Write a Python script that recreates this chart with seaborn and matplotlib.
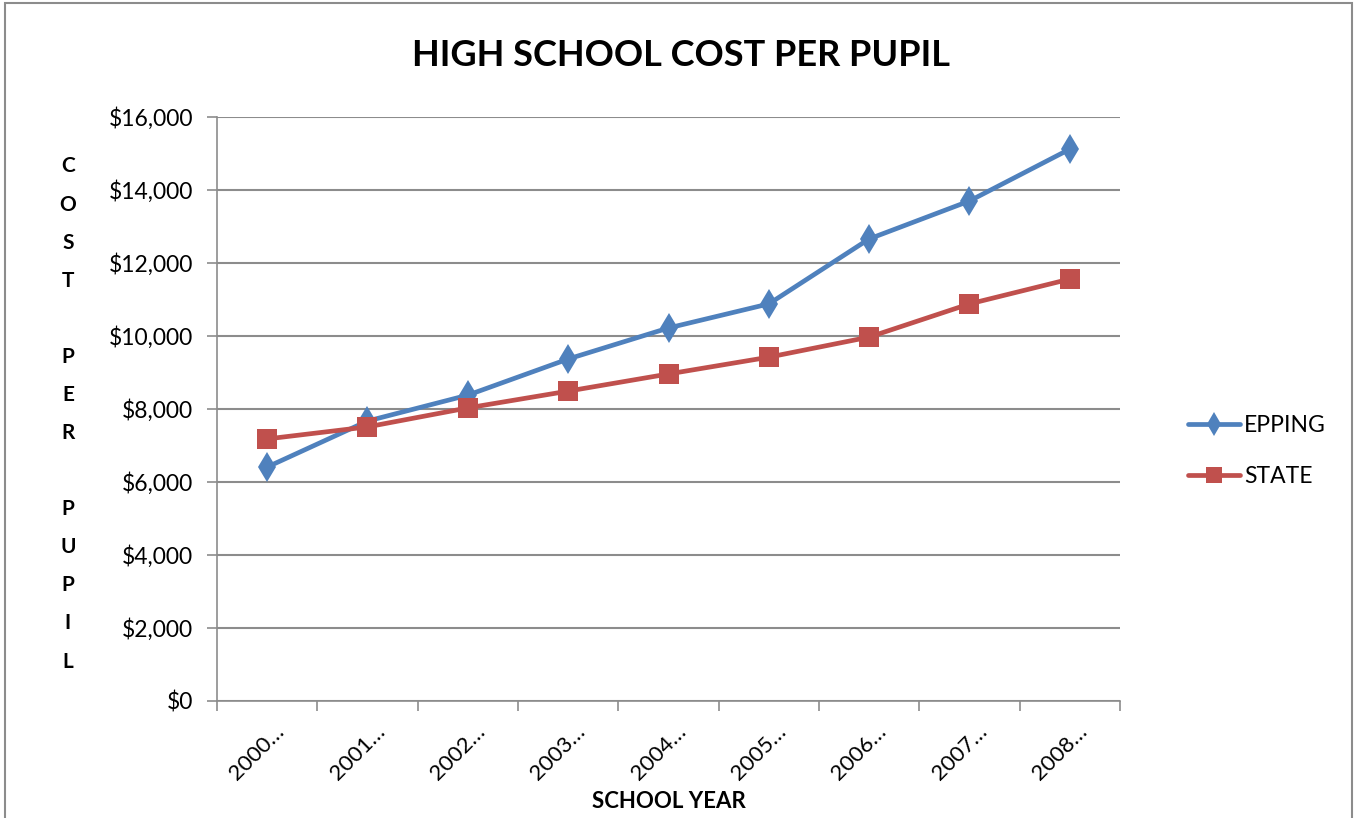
import matplotlib
matplotlib.use("Agg")
import matplotlib.pyplot as plt
import matplotlib.transforms as mtransforms
import seaborn as sns
import pandas as pd
from matplotlib.patches import Rectangle
from matplotlib.ticker import FuncFormatter, FixedLocator

years = ["2000…", "2001…", "2002…", "2003…", "2004…", "2005…", "2006…", "2007…", "2008…"]
epping = [6410, 7670, 8380, 9370, 10220, 10880, 12660, 13700, 15120]
state = [7180, 7510, 8030, 8490, 8960, 9420, 9970, 10880, 11560]

sns.set_theme(style="white")
plt.rcParams['font.family'] = ['Lato', 'DejaVu Sans']
plt.rcParams['text.color'] = 'black'
plt.rcParams['axes.labelcolor'] = 'black'
plt.rcParams['xtick.color'] = 'black'
plt.rcParams['ytick.color'] = 'black'

fig = plt.figure(figsize=(13.57, 8.18), dpi=100)
ax = fig.add_axes([217/1357, 1-701/818, (1120-217)/1357, (701-117)/818])

df = pd.DataFrame({"year": years, "EPPING": epping, "STATE": state})
xs = list(range(len(years)))
df["x"] = xs

blue = "#4F81BD"
red = "#C0504D"
sns.lineplot(data=df, x="x", y="EPPING", ax=ax, color=blue, lw=3.4, marker="d",
             markersize=15, markeredgewidth=0, label="EPPING")
sns.lineplot(data=df, x="x", y="STATE", ax=ax, color=red, lw=3.4, marker="s",
             markersize=14, markeredgewidth=0, label="STATE")

ax.set_xlim(-0.5, len(years) - 0.5)
ax.set_ylim(0, 16000)
ax.set_yticks(range(0, 16001, 2000))
ax.yaxis.set_major_formatter(FuncFormatter(lambda v, p: f"${int(v):,}"))
ax.grid(axis="y", color="#8c8c8c", lw=1.5)
ax.grid(axis="x", visible=False)
ax.set_axisbelow(True)

ax.xaxis.set_major_locator(FixedLocator([i - 0.5 for i in range(len(years) + 1)]))
ax.xaxis.set_minor_locator(FixedLocator(xs))
ax.set_xticklabels([], minor=False)
ax.tick_params(axis="x", which="major", length=7, width=1.2, color="#8c8c8c", direction="out", bottom=True)
ax.tick_params(axis="x", which="minor", length=0, pad=37)
ax.tick_params(axis="y", length=7, width=1.2, color="#8c8c8c", direction="out", left=True, labelsize=16.5, pad=10)
labs = ax.set_xticklabels(years, minor=True, rotation=45, ha="center", va="center",
                          rotation_mode="anchor", fontsize=16)
off = mtransforms.ScaledTranslation(-10/100, 0, fig.dpi_scale_trans)
for t in ax.xaxis.get_minor_ticks():
    t.label1.set_transform(t.label1.get_transform() + off)

for s in ["top", "right"]:
    ax.spines[s].set_visible(False)
for s in ["left", "bottom"]:
    ax.spines[s].set_color("#8c8c8c")
    ax.spines[s].set_linewidth(1.2)

ax.set_xlabel("")
ax.set_ylabel("")
fig.text(669/1357, 1-802/818, "SCHOOL YEAR", ha="center", va="center", fontsize=16, fontweight="bold")

fig.text(68/1357, 1-414/818, "C\nO\nS\nT\n\nP\nE\nR\n\nP\nU\nP\nI\nL", ha="center", va="center",
         fontsize=15, fontweight="bold", linespacing=2.13)

fig.text(681/1357, 1-55/818, "HIGH SCHOOL COST PER PUPIL", ha="center", va="center",
         fontsize=26, fontweight="bold")

ax.legend(loc="center left", bbox_to_anchor=(1167/1357, 1-451/818), bbox_transform=fig.transFigure,
          frameon=False, fontsize=16.5, handlelength=2.3, handletextpad=0.15, labelspacing=1.3,
          markerscale=0.8)

fig.patches.append(Rectangle((5/1357, -0.01), (1352-5)/1357, 1.01-3/818, transform=fig.transFigure,
                             fill=False, edgecolor="#8c8c8c", lw=1.5))

fig.savefig("out.png", dpi=100)
